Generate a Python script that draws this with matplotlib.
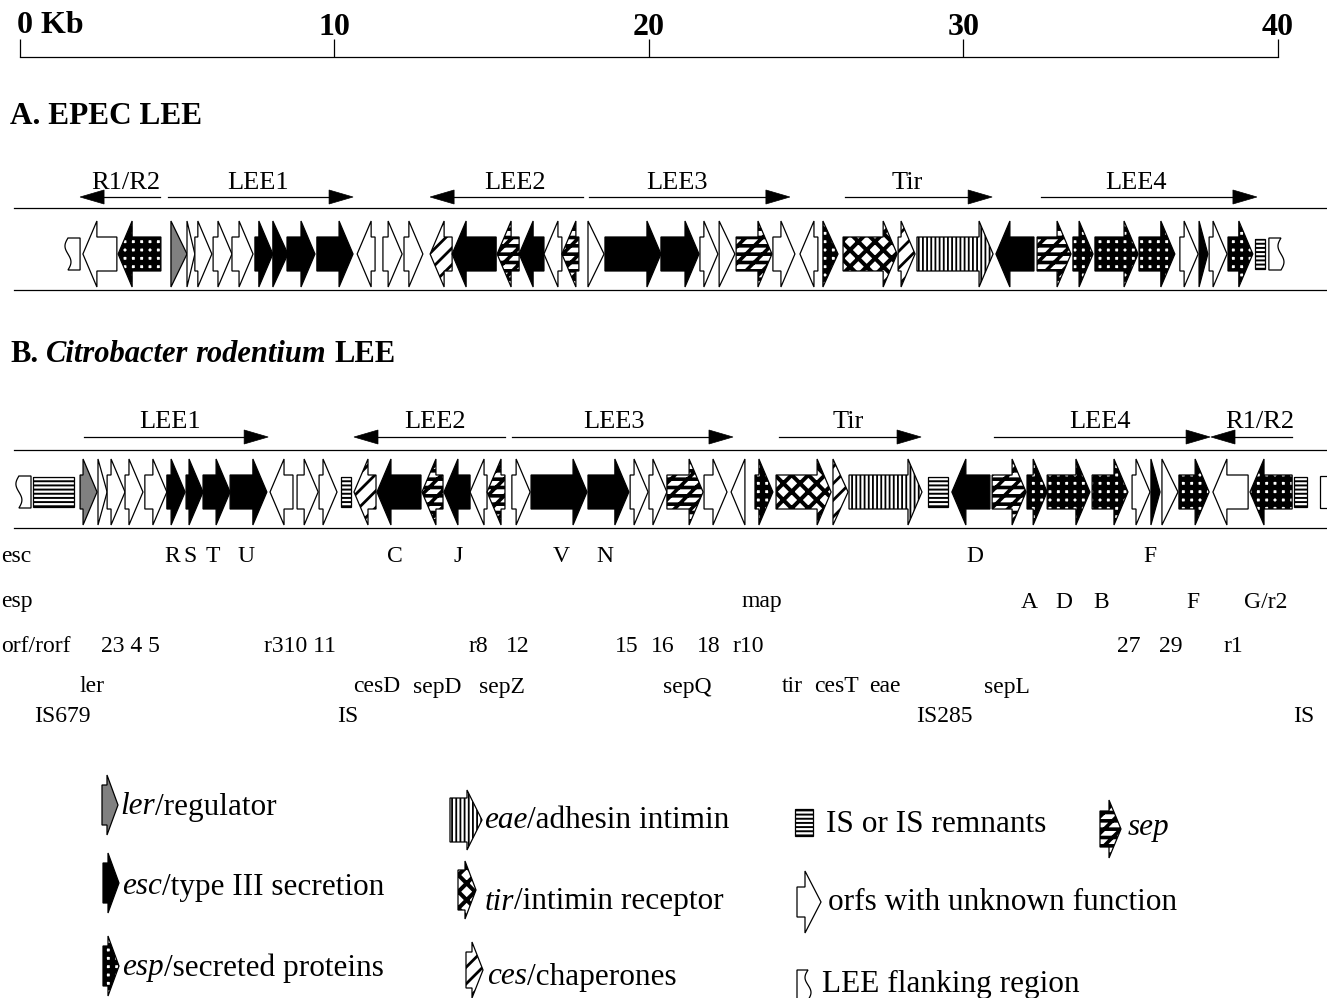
import numpy as np
import matplotlib
matplotlib.use('Agg')
import matplotlib.pyplot as plt
from matplotlib.patches import Polygon

PX = 31.45   # pixels per kb in the figure
X0 = 20      # pixel column of 0 kb

def kb(px):
    return (px - X0) / PX

# ---- data ----
scale_ticks = [0, 10, 20, 30, 40]
scale_labels = ['0 Kb', '10', '20', '30', '40']

# A. EPEC LEE genes (kb)
a_start = [1.43, 2.00, 3.12, 4.80, 5.31, 5.56, 6.14, 6.74, 7.47, 8.04, 8.49, 9.44,
           10.72, 11.54, 12.21, 13.04, 13.74, 15.17, 15.87, 16.66, 17.23, 18.06,
           18.60, 20.38, 21.62, 22.23, 22.77, 23.94, 24.80, 25.53, 26.17, 27.92,
           28.52, 31.03, 32.34, 33.48, 34.18, 35.58, 36.88, 37.49, 37.81, 38.41,
           39.27, 39.71]
a_end = [1.91, 3.08, 4.48, 5.31, 5.56, 6.10, 6.74, 7.41, 8.04, 8.52, 9.38, 10.59,
         11.29, 12.15, 12.81, 13.74, 15.14, 15.87, 16.66, 17.23, 17.77, 18.57,
         20.38, 21.59, 22.19, 22.73, 23.91, 24.64, 25.37, 26.01, 27.89, 28.46,
         30.94, 32.24, 33.42, 34.12, 35.55, 36.72, 37.46, 37.77, 38.38, 39.20,
         39.59, 40.19]
a_strand = [-1, -1, -1, 1, 1, 1, 1, 1, 1, 1, 1, 1,
            -1, 1, 1, -1, -1, -1, -1, -1, -1, 1,
            1, 1, 1, 1, 1, 1, -1, 1, 1, 1,
            1, -1, 1, 1, 1, 1, 1, 1, 1, 1,
            0, 1]
a_kind = ['flank', 'orf', 'esp', 'ler', 'orf', 'orf', 'orf', 'orf', 'esc', 'esc', 'esc', 'esc',
          'orf', 'orf', 'orf', 'ces', 'esc', 'sep', 'esc', 'orf', 'sep', 'orf',
          'esc', 'esc', 'orf', 'orf', 'sep', 'orf', 'orf', 'esp', 'tir', 'ces',
          'eae', 'esc', 'sep', 'esp', 'esp', 'esp', 'orf', 'esc', 'orf', 'esp',
          'IS', 'flank']

# B. Citrobacter rodentium LEE genes (kb)
b_start = [-0.13, 0.41, 1.91, 2.48, 2.77, 3.34, 3.97, 4.67, 5.28, 5.82, 6.68,
           7.95, 8.81, 9.51, 10.21, 10.62, 11.35, 12.78, 13.48, 14.31, 14.85,
           15.64, 16.25, 18.06, 19.40, 20.00, 20.57, 21.75, 22.61, 23.37, 24.04,
           25.85, 26.36, 28.87, 29.63, 30.91, 32.02, 32.66, 34.09, 35.36, 35.96,
           36.31, 36.85, 37.93, 39.11, 40.51, 41.34]
b_end = [0.35, 1.72, 2.45, 2.77, 3.34, 3.91, 4.67, 5.25, 5.82, 6.68, 7.85,
         8.68, 9.48, 10.08, 10.52, 11.32, 12.75, 13.45, 14.31, 14.85, 15.42,
         16.22, 18.03, 19.36, 19.97, 20.57, 21.72, 22.48, 23.05, 23.94, 25.79,
         26.33, 28.68, 29.51, 30.84, 31.99, 32.66, 34.02, 35.23, 35.93, 36.25,
         36.82, 37.81, 39.05, 40.45, 40.92, 41.97]
b_strand = [-1, 0, 1, 1, 1, 1, 1, 1, 1, 1, 1,
            -1, 1, 1, 0, -1, -1, -1, -1, -1, -1,
            1, 1, 1, 1, 1, 1, 1, -1, 1, 1,
            1, 1, 0, -1, 1, 1, 1, 1, 1, 1,
            1, 1, -1, -1, 0, 1]
b_kind = ['flank', 'IS', 'ler', 'orf', 'orf', 'orf', 'orf', 'esc', 'esc', 'esc', 'esc',
          'orf', 'orf', 'orf', 'IS', 'ces', 'esc', 'sep', 'esc', 'orf', 'sep',
          'orf', 'esc', 'esc', 'orf', 'orf', 'sep', 'orf', 'orf', 'esp', 'tir',
          'ces', 'eae', 'IS', 'esc', 'sep', 'esp', 'esp', 'esp', 'orf', 'esc',
          'orf', 'esp', 'orf', 'esp', 'IS', 'flank']

# operons (arrow from -> to, label centre)
a_reg_names = ['R1/R2', 'LEE1', 'LEE2', 'LEE3', 'Tir', 'LEE4']
a_reg_from = [4.45, 4.71, 17.90, 18.09, 26.23, 32.46]
a_reg_to = [1.91, 10.59, 13.04, 24.48, 30.91, 39.33]
a_reg_lab = [3.37, 7.57, 15.74, 20.89, 28.20, 35.48]

b_reg_names = ['LEE1', 'LEE2', 'LEE3', 'Tir', 'LEE4', 'R1/R2']
b_reg_from = [2.03, 15.42, 15.64, 24.13, 30.97, 40.45]
b_reg_to = [7.89, 10.62, 22.67, 28.65, 37.84, 37.87]
b_reg_lab = [4.77, 13.20, 18.89, 26.33, 34.34, 39.43]

# gene names under panel B (text, kb, row)
name_text = ['R', 'S', 'T', 'U', 'C', 'J', 'V', 'N', 'D', 'F',
             'map', 'A', 'D', 'B', 'F', 'G/r2',
             '23 4 5', 'r310 11', 'r8', '12', '15', '16', '18', 'r10', '27', '29', 'r1',
             'ler', 'cesD', 'sepD', 'sepZ', 'sepQ', 'tir', 'cesT', 'eae', 'sepL',
             'IS679', 'IS', 'IS285', 'IS']
name_kb = [4.83, 5.41, 6.14, 7.19, 11.92, 13.93, 17.20, 18.60, 30.37, 35.93,
           23.59, 32.08, 33.20, 34.37, 37.30, 39.62,
           3.50, 8.90, 14.56, 15.83, 19.30, 20.45, 21.91, 23.15, 35.26, 36.60, 38.57,
           2.29, 11.35, 13.26, 15.33, 21.21, 24.55, 25.95, 27.50, 31.38,
           1.34, 10.43, 29.38, 40.83]
name_row = [0] * 10 + [1] * 6 + [2] * 11 + [3] * 9 + [4] * 4
row_heads = ['esc', 'esp', 'orf/rorf']

SERIF = 'Liberation Serif'

STYLES = {
    'orf': dict(fc='white'),
    'esc': dict(fc='black'),
    'ler': dict(fc='#808080'),
    'esp': dict(fc='white', hatch='++', hlw=3.9),
    'tir': dict(fc='white', hatch='xx', hlw=2.9),
    'eae': dict(fc='white', hatch='||||', hlw=1.3),
    'ces': dict(fc='white', hatch='//', hlw=2.0),
    'sep': dict(fc='white', hatch='--//', hlw=2.6),
    'IS': dict(fc='white', hatch='----', hlw=1.4),
    'flank': dict(fc='white'),
}

fig = plt.figure(figsize=(13.27, 9.98), dpi=100)
ax = fig.add_axes([0, 0, 1, 1])
ax.set_xlim(kb(0), kb(1327))
ax.set_ylim(998, 0)
ax.axis('off')


def arrow_pts(x0, x1, yc, strand, hh=33, bh=17, hl=14):
    hl = hl / PX
    if x1 - x0 <= hl * 1.2:
        if strand > 0:
            return [(x0, yc - hh), (x1, yc), (x0, yc + hh)]
        return [(x1, yc - hh), (x0, yc), (x1, yc + hh)]
    if strand > 0:
        xb = x1 - hl
        return [(x0, yc - bh), (xb, yc - bh), (xb, yc - hh), (x1, yc),
                (xb, yc + hh), (xb, yc + bh), (x0, yc + bh)]
    xb = x0 + hl
    return [(x1, yc - bh), (xb, yc - bh), (xb, yc - hh), (x0, yc),
            (xb, yc + hh), (xb, yc + bh), (x1, yc + bh)]


def flank_pts(x0, x1, yc, side, h=16):
    t = np.linspace(0, 1, 30)
    amp = 3.0 / PX
    if side < 0:
        xs = x0 + amp * (1 + np.sin(2 * np.pi * t))
        edge = list(zip(xs, yc + h - 2 * h * t))
        return [(x1, yc - h), (x1, yc + h)] + edge
    xs = x1 - amp * (1 + np.sin(2 * np.pi * t))
    edge = list(zip(xs, yc - h + 2 * h * t))
    return [(x0, yc + h), (x0, yc - h)] + edge


def draw_shape(pts, kind):
    st = STYLES[kind]
    hatch = st.get('hatch')
    with plt.rc_context({'hatch.linewidth': st.get('hlw', 1.0)}):
        p = Polygon(pts, closed=True, facecolor=st['fc'],
                    edgecolor='black' if hatch else 'none', hatch=hatch, lw=0)
        if hatch and hasattr(p, 'set_hatch_linewidth'):
            p.set_hatch_linewidth(st['hlw'])
    ax.add_patch(p)
    ax.add_patch(Polygon(pts, closed=True, fill=False, edgecolor='black', lw=0.9))


def draw_gene(x0, x1, yc, strand, kind, hh=33, bh=17, hl=14):
    if kind == 'flank':
        pts = flank_pts(x0, x1, yc, strand)
    elif kind == 'IS':
        ih = 15
        pts = [(x0, yc - ih), (x1, yc - ih), (x1, yc + ih), (x0, yc + ih)]
    else:
        pts = arrow_pts(x0, x1, yc, strand, hh, bh, hl)
    draw_shape(pts, kind)


def draw_operon(x_from, x_to, y, name, xl, yl):
    d = np.sign(x_to - x_from)
    hl = 24 / PX
    ax.plot([x_from, x_to - d * hl], [y, y], color='black', lw=0.9)
    ax.add_patch(Polygon([(x_to, y), (x_to - d * hl, y - 7), (x_to - d * hl, y + 7)],
                         closed=True, facecolor='black', edgecolor='black', lw=0.5))
    ax.text(xl, yl, name, ha='center', va='baseline', fontsize=19, family=SERIF)


def text_runs(x, y, parts, size, weight='normal'):
    r = fig.canvas.get_renderer()
    for s, style in parts:
        if s == ' ':
            x += 0.25 * size * 100 / 72 / PX
            continue
        t = ax.text(x, y, s, fontsize=size, fontstyle=style, fontweight=weight,
                    family=SERIF, ha='left', va='center')
        x += t.get_window_extent(r).width / PX


# ---- scale bar ----
ax.plot([0, 40], [57, 57], color='black', lw=0.9)
ax.vlines(scale_ticks, 39, 57, color='black', lw=0.9)
for v, lab in zip(scale_ticks, scale_labels):
    if v == 0:
        ax.text(kb(17), 25, lab, ha='left', va='center', fontsize=23,
                fontweight='bold', family=SERIF)
    else:
        ax.text(v, 27, lab, ha='center', va='center', fontsize=23,
                fontweight='bold', family=SERIF)

# ---- panel A ----
ax.text(kb(10), 116, 'A. EPEC LEE', ha='left', va='center', fontsize=22.5,
        fontweight='bold', family=SERIF)
for yl in (208, 290):
    ax.plot([kb(14), kb(1327)], [yl, yl], color='black', lw=0.9)
for f, t, n, xl in zip(a_reg_from, a_reg_to, a_reg_names, a_reg_lab):
    draw_operon(f, t, 197, n, xl, 189)
for s, e, d, k in zip(a_start, a_end, a_strand, a_kind):
    draw_gene(s, e, 254, d, k)

# ---- panel B ----
text_runs(kb(10), 354, [('B.', 'normal'), (' ', None),
                        ('Citrobacter', 'italic'), (' ', None),
                        ('rodentium', 'italic'), (' ', None),
                        ('LEE', 'normal')], 22, weight='bold')
for yl in (450, 528):
    ax.plot([kb(14), kb(1327)], [yl, yl], color='black', lw=0.9)
for f, t, n, xl in zip(b_reg_from, b_reg_to, b_reg_names, b_reg_lab):
    draw_operon(f, t, 437, n, xl, 428)
for s, e, d, k in zip(b_start, b_end, b_strand, b_kind):
    draw_gene(s, e, 492, d, k)

row_y = [556, 602, 646, 687, 716]
for i, h in enumerate(row_heads):
    ax.text(kb(1), row_y[i], h, ha='left', va='center', fontsize=17, family=SERIF)
for s, x, r in zip(name_text, name_kb, name_row):
    ax.text(x, row_y[r], s, ha='center', va='center', fontsize=17, family=SERIF)

# ---- legend ----
LS = 22.5
draw_gene(kb(102), kb(118), 805, 1, 'ler', hh=30, bh=20, hl=11)
text_runs(kb(120), 807, [('ler', 'italic'), ('/regulator', 'normal')], LS)
draw_gene(kb(103), kb(119), 883, 1, 'esc', hh=30, bh=20, hl=11)
text_runs(kb(122), 887, [('esc', 'italic'), ('/type III secretion', 'normal')], LS)
draw_gene(kb(103), kb(119), 966, 1, 'esp', hh=30, bh=20, hl=11)
text_runs(kb(122), 968, [('esp', 'italic'), ('/secreted proteins', 'normal')], LS)

draw_gene(kb(450), kb(482), 820, 1, 'eae', hh=30, bh=22, hl=15)
text_runs(kb(484), 820, [('eae', 'italic'), ('/adhesin intimin', 'normal')], LS)
draw_gene(kb(458), kb(476), 890, 1, 'tir', hh=29, bh=20, hl=11)
text_runs(kb(485), 902, [('tir', 'italic'), ('/intimin receptor', 'normal')], LS)
draw_gene(kb(466), kb(483), 970, 1, 'ces', hh=28, bh=18, hl=11)
text_runs(kb(487), 977, [('ces', 'italic'), ('/chaperones', 'normal')], LS)

draw_shape([(kb(795), 809), (kb(813), 809), (kb(813), 836), (kb(795), 836)], 'IS')
text_runs(kb(826), 825, [('IS or IS remnants', 'normal')], LS)
draw_gene(kb(1100), kb(1121), 829, 1, 'sep', hh=29, bh=18, hl=12)
text_runs(kb(1128), 827, [('sep', 'italic')], LS)
draw_gene(kb(797), kb(821), 902, 1, 'orf', hh=31, bh=15, hl=16)
text_runs(kb(828), 902, [('orfs with unknown function', 'normal')], LS)
draw_shape(flank_pts(kb(797), kb(811), 985, 1, h=15), 'flank')
text_runs(kb(822), 984, [('LEE flanking region', 'normal')], LS)

fig.savefig('out.png', dpi=100)
